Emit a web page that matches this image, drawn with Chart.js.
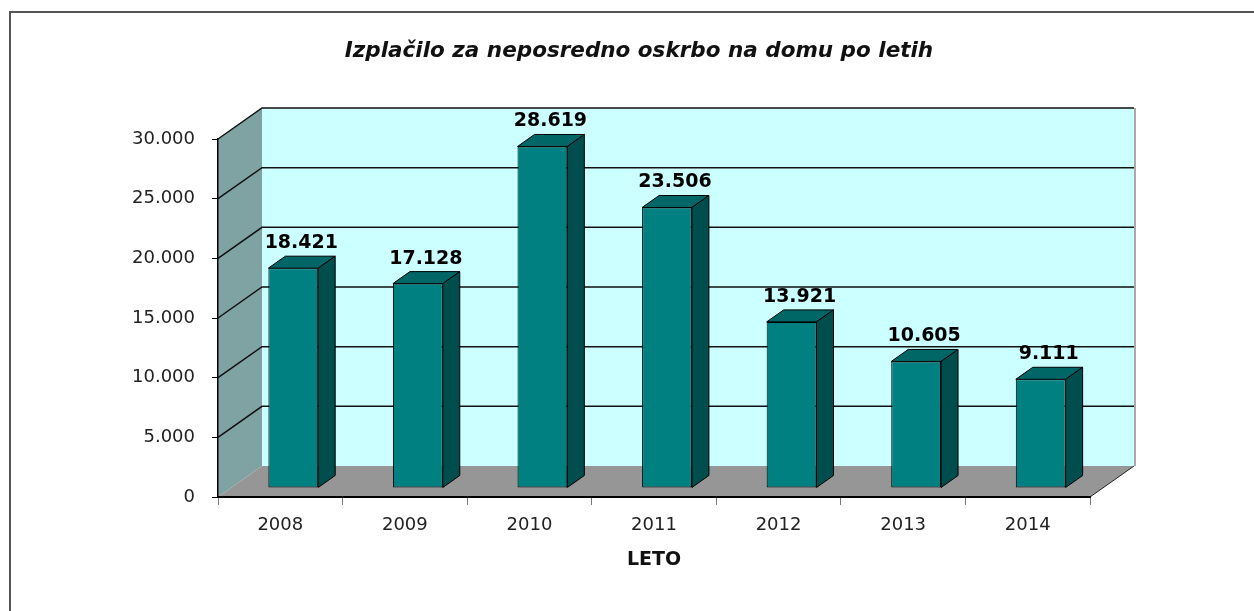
<!DOCTYPE html>
<html>
<head>
<meta charset="utf-8">
<script src="https://cdn.jsdelivr.net/npm/chart.js@4"></script>
<style>
  body { margin: 0; background: #fff; }
  canvas { display: block; }
</style>
</head>
<body>
<canvas id="payoutChart" width="1254" height="611"></canvas>
<script>
const years = ["2008", "2009", "2010", "2011", "2012", "2013", "2014"];
const payouts = [18421, 17128, 28619, 23506, 13921, 10605, 9111];
const yMin = 0, yMax = 30000, yStep = 5000;

const chartTitle = "Izplačilo za neposredno oskrbo na domu po letih";
const xTitle = "LETO";

// depth of the walls and of the bars (Excel 3D look)
const DX = 44, DY = -31;
const SHIFT_X = 13, SHIFT_Y = -9;
const BAR_DX = 17, BAR_DY = -12;

const fmt = n => String(n).replace(/\B(?=(\d{3})+(?!\d))/g, ".");

const poly = (ctx, pts) => {
  ctx.beginPath();
  ctx.moveTo(pts[0][0], pts[0][1]);
  pts.slice(1).forEach(p => ctx.lineTo(p[0], p[1]));
  ctx.closePath();
};

const scene3d = {
  id: "scene3d",
  beforeDraw(chart) {
    const { ctx, chartArea: a, scales: { y } } = chart;
    const top = y.getPixelForValue(yMax);
    const bottom = y.getPixelForValue(0);
    ctx.save();

    // outer frame
    ctx.strokeStyle = "#555";
    ctx.lineWidth = 2;
    ctx.strokeRect(10, 12, 1400, 800);

    // title (centred like the original, a bit right of canvas centre)
    ctx.fillStyle = "#111";
    ctx.font = "italic bold 21.5px 'DejaVu Sans'";
    ctx.textAlign = "center";
    ctx.textBaseline = "middle";
    ctx.fillText(chartTitle, 639, 51);

    // back wall
    ctx.fillStyle = "#ccffff";
    ctx.fillRect(a.left + DX, top + DY, a.right - a.left, bottom - top);
    ctx.strokeStyle = "#aaa";
    ctx.beginPath();
    ctx.moveTo(a.right + DX + 1, top + DY);
    ctx.lineTo(a.right + DX + 1, bottom + DY);
    ctx.stroke();

    // side wall
    ctx.fillStyle = "#7fa3a3";
    poly(ctx, [[a.left, top], [a.left + DX, top + DY], [a.left + DX, bottom + DY], [a.left, bottom]]);
    ctx.fill();

    // grid lines over side + back wall
    ctx.strokeStyle = "#111";
    ctx.lineWidth = 1.5;
    y.ticks.forEach(t => {
      if (t.value === 0) return;
      const py = y.getPixelForValue(t.value);
      ctx.beginPath();
      ctx.moveTo(a.left, py);
      ctx.lineTo(a.left + DX, py + DY);
      ctx.lineTo(a.right + DX, py + DY);
      ctx.stroke();
    });

    // floor
    ctx.fillStyle = "#969696";
    poly(ctx, [[a.left, bottom], [a.right, bottom], [a.right + DX, bottom + DY], [a.left + DX, bottom + DY]]);
    ctx.fill();
    ctx.strokeStyle = "#222";
    ctx.lineWidth = 1;
    ctx.beginPath();
    ctx.moveTo(a.right, bottom);
    ctx.lineTo(a.right + DX, bottom + DY);
    ctx.stroke();

    ctx.restore();
  },
  beforeDatasetsDraw(chart) {
    chart.ctx.save();
    chart.ctx.translate(SHIFT_X, SHIFT_Y);
  },
  afterDatasetsDraw(chart) {
    const ctx = chart.ctx;
    ctx.restore();
    ctx.save();
    ctx.lineWidth = 1;
    ctx.strokeStyle = "#000";
    chart.getDatasetMeta(0).data.forEach((bar, i) => {
      const l = bar.x - bar.width / 2 + SHIFT_X;
      const r = bar.x + bar.width / 2 + SHIFT_X;
      const t = bar.y + SHIFT_Y;
      const b = bar.base + SHIFT_Y;
      // top face
      ctx.fillStyle = "#006666";
      poly(ctx, [[l, t], [l + BAR_DX, t + BAR_DY], [r + BAR_DX, t + BAR_DY], [r, t]]);
      ctx.fill(); ctx.stroke();
      // side face
      ctx.fillStyle = "#004d4d";
      poly(ctx, [[r, t], [r + BAR_DX, t + BAR_DY], [r + BAR_DX, b + BAR_DY], [r, b]]);
      ctx.fill(); ctx.stroke();
      // value label
      ctx.fillStyle = "#000";
      ctx.font = "bold 19px 'DejaVu Sans'";
      ctx.textAlign = "center";
      ctx.textBaseline = "middle";
      ctx.fillText(fmt(payouts[i]), bar.x + SHIFT_X + 8, t + BAR_DY - 13);
    });
    ctx.restore();
  }
};

const ctx = document.getElementById("payoutChart").getContext("2d");
const chart = new Chart(ctx, {
  type: "bar",
  data: {
    labels: years,
    datasets: [{
      data: payouts,
      backgroundColor: "#008080",
      borderColor: "#000",
      borderWidth: 1,
      borderSkipped: false,
      barPercentage: 0.4,
      categoryPercentage: 1.0,
      clip: false
    }]
  },
  options: {
    responsive: false,
    animation: false,
    devicePixelRatio: 1,
    layout: { padding: { left: 0, right: 164, top: 139, bottom: 0 } },
    plugins: {
      legend: { display: false },
      tooltip: { enabled: false },
      title: { display: false }
    },
    scales: {
      x: {
        afterFit: s => { s.height = 114; },
        grid: { offset: true, drawOnChartArea: false, drawTicks: true, tickLength: 8, color: "#777" },
        border: { display: true, color: "#000", width: 2 },
        ticks: { color: "#222", padding: 10, font: { family: "DejaVu Sans", size: 18 } },
        title: {
          display: true,
          text: xTitle,
          color: "#111",
          font: { family: "DejaVu Sans", size: 19, weight: "bold", lineHeight: 1.2 },
          padding: { top: 0, bottom: 40 }
        }
      },
      y: {
        min: yMin,
        max: yMax,
        afterFit: s => { s.width = 218; },
        grid: { drawOnChartArea: false, drawTicks: true, tickLength: 6, color: "#000" },
        border: { display: true, color: "#000", width: 1.5 },
        ticks: {
          stepSize: yStep,
          color: "#222",
          padding: 17,
          font: { family: "DejaVu Sans", size: 18 },
          callback: v => fmt(v)
        }
      }
    }
  },
  plugins: [scene3d]
});
</script>
</body>
</html>
